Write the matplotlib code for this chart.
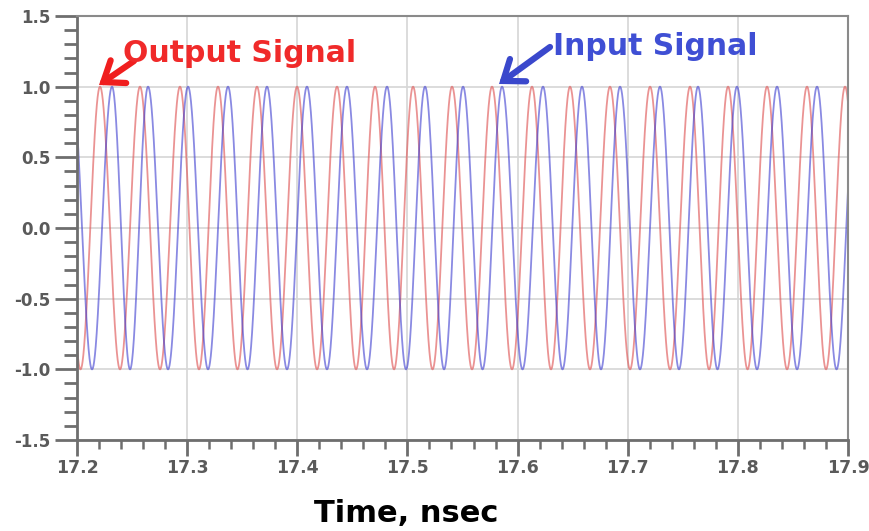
import numpy as np
import matplotlib
matplotlib.use("Agg")
import matplotlib.pyplot as plt
from matplotlib.ticker import MultipleLocator

plt.rcParams['font.family'] = ['DejaVu Sans']
plt.rcParams['axes.unicode_minus'] = False

# ---- data ----
# times (ns) of the waveform crests for each signal
output_peaks_ns = [17.1855, 17.2209, 17.2572, 17.2935, 17.3280, 17.3634, 17.3998,
                   17.4361, 17.4706, 17.5051, 17.5405, 17.5768, 17.6131, 17.6476,
                   17.6839, 17.7203, 17.7566, 17.7911, 17.8265, 17.8628, 17.8973,
                   17.9327]
input_peaks_ns = [17.1955, 17.2318, 17.2645, 17.3008, 17.3371, 17.3725, 17.4088,
                  17.4451, 17.4815, 17.5160, 17.5505, 17.5859, 17.6231, 17.6585,
                  17.6930, 17.7293, 17.7638, 17.7992, 17.8356, 17.8719, 17.9073]
output_amplitude = 1.0
input_amplitude = 1.0

x_ticks = [17.2, 17.3, 17.4, 17.5, 17.6, 17.7, 17.8, 17.9]
y_ticks = [-1.5, -1.0, -0.5, 0.0, 0.5, 1.0, 1.5]
x_label = "Time, nsec"
output_label = "Output Signal"
input_label = "Input Signal"


def waveform(t, peaks, amp):
    peaks = np.asarray(peaks)
    phase = np.interp(t, peaks, 2 * np.pi * np.arange(len(peaks)))
    return amp * np.cos(phase)


W, H = 870, 531
fig = plt.figure(figsize=(W / 100, H / 100), dpi=100)
ax = fig.add_axes([77 / W, 1 - 440 / H, (848 - 77) / W, (440 - 16) / H])

t = np.linspace(x_ticks[0], x_ticks[-1], 4000)
ax.plot(t, waveform(t, output_peaks_ns, output_amplitude), color='#e05a5a', lw=1.3, alpha=0.65)
ax.plot(t, waveform(t, input_peaks_ns, input_amplitude), color='#3c3cd0', lw=1.3, alpha=0.6)

ax.set_xlim(x_ticks[0], x_ticks[-1])
ax.set_ylim(y_ticks[0], y_ticks[-1])
ax.set_xticks(x_ticks)
ax.set_yticks(y_ticks)
ax.set_xticklabels([f"{v:.1f}" for v in x_ticks])
ax.set_yticklabels([f"{v:.1f}" for v in y_ticks])
ax.xaxis.set_minor_locator(MultipleLocator(0.02))
ax.yaxis.set_minor_locator(MultipleLocator(0.1))

ax.grid(True, which='major', color='#d6d6d6', lw=1.2)
ax.set_axisbelow(True)

for s in ['left', 'bottom']:
    ax.spines[s].set_color('#6e6e6e')
    ax.spines[s].set_linewidth(2.0)
for s in ['top', 'right']:
    ax.spines[s].set_color('#8a8a8a')
    ax.spines[s].set_linewidth(1.5)

ax.tick_params(axis='y', which='major', length=16, width=2, color='#6e6e6e',
               labelsize=12, labelcolor='#5a5a5a', pad=3)
ax.tick_params(axis='y', which='minor', length=9.5, width=2, color='#6e6e6e')
ax.tick_params(axis='x', which='major', length=11.5, width=2, color='#6e6e6e',
               labelsize=12.5, labelcolor='#5a5a5a', pad=2)
ax.tick_params(axis='x', which='minor', length=6.5, width=1.8, color='#6e6e6e')
for lab in ax.get_xticklabels() + ax.get_yticklabels():
    lab.set_fontweight('bold')

fig.text(406 / W, 1 - 522 / H, x_label, ha='center', va='baseline',
         fontsize=22, fontweight='bold', color='black')

# annotations
fig.text(123 / W, 1 - 62 / H, output_label, ha='left', va='baseline',
         fontsize=21.5, fontweight='bold', color='#f02a2a')
fig.text(553 / W, 1 - 55 / H, input_label, ha='left', va='baseline',
         fontsize=21.5, fontweight='bold', color='#3f4fd4')

arrow_style = '->,head_length=0.6,head_width=0.45'
ax.annotate('', xy=(99, H - 85), xycoords='figure pixels',
            xytext=(134, H - 61), textcoords='figure pixels',
            arrowprops=dict(arrowstyle=arrow_style, color='#f01e1e', lw=4.5,
                            mutation_scale=22, shrinkA=0, shrinkB=0,
                            joinstyle='miter', capstyle='round'))
ax.annotate('', xy=(499, H - 84), xycoords='figure pixels',
            xytext=(550, H - 47), textcoords='figure pixels',
            arrowprops=dict(arrowstyle=arrow_style, color='#3a48cc', lw=4.5,
                            mutation_scale=22, shrinkA=0, shrinkB=0,
                            joinstyle='miter', capstyle='round'))

fig.savefig('out.png', dpi=100)
